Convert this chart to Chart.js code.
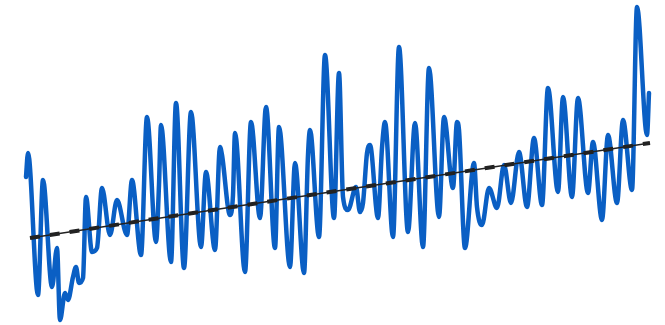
<!DOCTYPE html>
<html>
<head>
<meta charset="utf-8">
<script src="https://cdn.jsdelivr.net/npm/chart.js@4/dist/chart.umd.min.js"></script>
<style>
  html, body { margin: 0; padding: 0; background: #fff; }
  #wrap { width: 665px; height: 325px; }
</style>
</head>
<body>
<div id="wrap"><canvas id="chart"></canvas></div>
<script>
// time positions and readings
const times = [26, 28, 38, 43, 52, 57, 60, 65, 68, 73, 76, 79, 83, 86, 92, 97, 102, 110, 117, 127,
  132, 141, 147, 156, 159, 161, 171, 176, 184, 191, 201, 206, 215, 220, 222, 230, 233, 235,
  245, 251, 260, 266, 275, 279, 290, 295, 304, 308, 310, 319, 325, 334, 339, 343, 348, 356,
  360, 363, 367, 370, 378, 382, 385, 393, 399, 408, 415, 423, 429, 439, 444, 453, 457, 459,
  465, 474, 477, 482, 489, 497, 504, 511, 519, 527, 534, 542, 548, 558, 563, 572, 578, 588,
  593, 602, 608, 617, 623, 632, 637, 647, 649];
const values = [148, 172, 30, 145, 38, 77, 5, 32, 25, 48, 58, 42, 47, 128, 73, 77, 137, 90, 125, 90,
  145, 70, 208, 83, 140, 200, 63, 222, 57, 213, 78, 153, 75, 178, 170, 110, 130, 192,
  53, 203, 107, 218, 77, 198, 58, 162, 52, 170, 195, 88, 270, 107, 252, 128, 115, 138,
  113, 122, 172, 180, 107, 177, 203, 88, 278, 93, 202, 78, 257, 108, 208, 137, 203, 195,
  77, 162, 118, 100, 137, 117, 160, 122, 173, 118, 187, 120, 237, 133, 228, 128, 227, 132,
  183, 105, 190, 122, 205, 135, 318, 190, 232];
const trendTimes = [30, 650];
const trendValues = [87, 182];

const series = times.map((t, i) => ({ x: t, y: values[i] }));
const trend = trendTimes.map((t, i) => ({ x: t, y: trendValues[i] }));

new Chart(document.getElementById('chart'), {
  type: 'scatter',
  data: {
    datasets: [
      {
        data: trend,
        showLine: true,
        borderColor: '#222222',
        borderWidth: 4,
        borderDash: [10, 10],
        pointRadius: 0,
        order: 0
      },
      {
        data: trend,
        showLine: true,
        borderColor: '#222222',
        borderWidth: 1.5,
        pointRadius: 0,
        order: 1
      },
      {
        data: series,
        showLine: true,
        borderColor: '#0a5fc4',
        borderWidth: 4.5,
        pointRadius: 0,
        cubicInterpolationMode: 'monotone',
        borderCapStyle: 'round',
        borderJoinStyle: 'round',
        order: 2
      }
    ]
  },
  options: {
    responsive: true,
    maintainAspectRatio: false,
    animation: false,
    layout: { padding: 0 },
    plugins: { legend: { display: false }, tooltip: { enabled: false } },
    scales: {
      x: { type: 'linear', min: 0, max: 665, display: false },
      y: { min: 0, max: 325, display: false }
    }
  }
});
</script>
</body>
</html>
